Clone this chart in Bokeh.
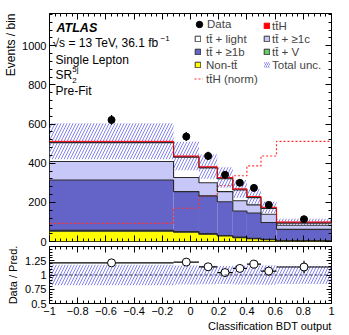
import numpy as np
from bokeh.plotting import figure
from bokeh.models import (Range1d, LinearAxis, FixedTicker, Label, Legend, LegendItem, Span, Title)
from bokeh.layouts import column
from bokeh.embed import file_html
from bokeh.resources import INLINE

# ---------------- data ----------------
edges = [-1.0, -0.12, 0.06, 0.19, 0.30, 0.40, 0.50, 0.61, 1.0]
non_tt = [53, 47, 37, 28, 20, 14, 9, 3]
tt_v = [4, 4, 3, 3, 3, 2, 2, 2]
tt_1b = [257, 204, 193, 172, 133, 130, 86, 57]
tt_1c = [95, 72, 67, 52, 52, 41, 42, 21]
tt_light = [96, 104, 76, 66, 55, 37, 30, 11]
tth = [7, 6, 6, 6, 6, 6, 6, 6]
tth_norm = [93, 170, 232, 286, 336, 386, 437, 512]
data = [621, 536, 437, 341, 300, 274, 187, 114]
data_err = [25, 23, 21, 18, 17, 17, 14, 11]
total_unc = [92, 73, 62, 52, 45, 38, 30, 16]

x_ticks = [-1, -0.8, -0.6, -0.4, -0.2, 0, 0.2, 0.4, 0.6, 0.8, 1]
x_tick_labels = ["\u22121", "\u22120.8", "\u22120.6", "\u22120.4", "\u22120.2", "0",
                 "0.2", "0.4", "0.6", "0.8", "1"]
y_ticks = [0, 200, 400, 600, 800, 1000]
r_ticks = [0.5, 0.75, 1, 1.25]
r_tick_labels = ["0.5", "0.75", "1", "1.25"]

TT = "t" + "t\u0304"
FONT = "Liberation Sans"
Y_MAX = 1165

# ---------------- derived ----------------
e = np.array(edges)
left, right = e[:-1], e[1:]
centers = (left + right) / 2
components = [
    ("Non-" + TT, non_tt, "#ffff00"),
    (TT + " + V", tt_v, "#66cc66"),
    (TT + " + \u22651b", tt_1b, "#6464c8"),
    (TT + " + \u22651c", tt_1c, "#c8c8f8"),
    (TT + " + light", tt_light, "#ffffff"),
    (TT + "H", tth, "#ff0000"),
]
total = np.sum([np.array(c[1]) for c in components], axis=0)
unc = np.array(total_unc)
ratio = np.array(data) / total
ratio_err = np.array(data_err) / total
rel_unc = unc / total

HATCH = "#8484f2"

xr = Range1d(-1, 1)


def style_axis(ax, ticker, labels=True, overrides=None, tin=6):
    ax.ticker = ticker
    ax.axis_line_color = None
    ax.major_tick_in = tin
    ax.major_tick_out = 0
    ax.minor_tick_in = 3
    ax.minor_tick_out = 0
    ax.major_tick_line_color = "black"
    ax.minor_tick_line_color = "black"
    if labels:
        ax.major_label_text_font = FONT
        ax.major_label_text_font_size = "11px"
        ax.major_label_text_color = "black"
        ax.major_label_standoff = 3
        if overrides:
            ax.major_label_overrides = overrides
    else:
        ax.major_label_text_font_size = "1px"
        ax.major_label_text_color = None
        ax.major_label_standoff = 0


x_minor = [round(v, 2) for v in np.arange(-1, 1.0001, 0.04)]
xt = FixedTicker(ticks=x_ticks, minor_ticks=x_minor)
yt = FixedTicker(ticks=y_ticks, minor_ticks=list(range(0, 1200, 40)))
rt = FixedTicker(ticks=r_ticks, minor_ticks=[round(v, 2) for v in np.arange(0.5, 1.51, 0.05)])
x_over = {k: v for k, v in zip(x_ticks, x_tick_labels)}
r_over = {k: v for k, v in zip(r_ticks, r_tick_labels)}

# ---------------- main panel ----------------
p = figure(width=349, height=246, x_range=xr, y_range=Range1d(0, Y_MAX),
           output_backend="svg", toolbar_location=None,
           min_border_left=49, min_border_right=18, min_border_top=13, min_border_bottom=5)
p.outline_line_color = "black"
p.grid.visible = False
style_axis(p.yaxis[0], yt, True)
style_axis(p.xaxis[0], xt, False)
ax_r = LinearAxis()
style_axis(ax_r, yt, False)
p.add_layout(ax_r, "right")
ax_t = LinearAxis()
style_axis(ax_t, xt, False)
p.add_layout(ax_t, "above")
p.add_layout(Title(text="Events / bin", align="right", vertical_align="top", text_font=FONT,
                   text_font_size="12px", text_font_style="normal", text_color="black",
                   standoff=0), "left")

bottom = np.zeros(len(left))
tops = []
for name, vals, col in components:
    top = bottom + np.array(vals)
    p.quad(left=left, right=right, bottom=bottom, top=top, fill_color=col, line_color=None)
    tops.append(top)
    bottom = top

# ttH normalised (dotted)
lh_norm = p.step(x=e, y=np.append(tth_norm, tth_norm[-1]), mode="after",
                 line_color="#ff3030", line_dash="2 2", line_width=1.2)

# uncertainty band
p.quad(left=left, right=right, bottom=total - unc, top=total + unc,
       fill_color=None, line_color=None, hatch_pattern="/", hatch_color=HATCH,
       hatch_scale=6, hatch_weight=1)

# stack step lines
for i, top in enumerate(tops):
    col = "#ff0000" if i == len(tops) - 1 else "#2a2a2a"
    lw = 0.9 if i == len(tops) - 1 else 1.1
    p.step(x=e, y=np.append(top, top[-1]), mode="after", line_color=col, line_width=lw)

# data
p.segment(x0=centers, x1=centers, y0=np.array(data) - np.array(data_err),
          y1=np.array(data) + np.array(data_err), line_color="black", line_width=1.3)
data_r = p.scatter(x=centers, y=data, size=7, fill_color="black", line_color="black")

# legend-only renderers (a single undefined point, never drawn in the plot)
nan = [np.nan]
box = {}
for name, vals, col in components:
    lc = "#ff0000" if name == TT + "H" else "#333333"
    box[name] = p.quad(left=nan, right=nan, top=nan, bottom=nan, fill_color=col,
                       line_color=lc, line_width=1)
leg_unc = p.quad(left=nan, right=nan, top=nan, bottom=nan, fill_color=None, line_color=None,
                 hatch_pattern="/", hatch_color=HATCH, hatch_scale=4, hatch_weight=1)


def make_legend(items, loc, gw, gh, standoff):
    lg = Legend(items=items, location=loc, glyph_width=gw, glyph_height=gh,
                label_height=13, label_width=10, spacing=0, padding=0, margin=0,
                label_standoff=standoff, border_line_color=None, background_fill_alpha=0,
                label_text_font=FONT, label_text_font_size="11.5px")
    p.add_layout(lg, "center")


make_legend([LegendItem(label="Data", renderers=[data_r])], (142, 209), 16, 16, 0)
make_legend([LegendItem(label=TT + " + light", renderers=[box[TT + " + light"]]),
             LegendItem(label=TT + " + \u22651b", renderers=[box[TT + " + \u22651b"]]),
             LegendItem(label="Non-" + TT, renderers=[box["Non-" + TT]])],
            (145, 170), 7, 7, 5)
make_legend([LegendItem(label=TT + "H (norm)", renderers=[lh_norm])], (145, 156), 9, 13, 3)
make_legend([LegendItem(label=TT + "H", renderers=[box[TT + "H"]]),
             LegendItem(label=TT + " + \u22651c", renderers=[box[TT + " + \u22651c"]]),
             LegendItem(label=TT + " + V", renderers=[box[TT + " + V"]]),
             LegendItem(label="Total unc.", renderers=[leg_unc])],
            (214, 170), 7, 7, 2)


def lab(fig, text, ax_x, ax_y, dx, dy, size="12px", style="normal", align="left",
        baseline="middle"):
    fig.add_layout(Label(x=ax_x, y=ax_y, x_offset=dx, y_offset=dy, text=text,
                         text_font=FONT, text_font_size=size, text_font_style=style,
                         text_align=align, text_baseline=baseline, text_color="black"))


X0 = xr.start
lab(p, "ATLAS", X0, Y_MAX, 7, -14, size="12.5px", style="bold italic")
lab(p, "\u221as = 13 TeV, 36.1 fb", X0, Y_MAX, 3, -29)
lab(p, "\u22121", X0, Y_MAX, 111, -24.5, size="8px")
lab(p, "Single Lepton", X0, Y_MAX, 6, -46)
lab(p, "SR", X0, Y_MAX, 6, -61.5)
lab(p, "5j", X0, Y_MAX, 22.7, -56, size="8px")
lab(p, "2", X0, Y_MAX, 22.7, -66.5, size="8px")
lab(p, "Pre-Fit", X0, Y_MAX, 6, -77.5)

# ---------------- ratio panel ----------------
r = figure(width=349, height=89, x_range=xr, y_range=Range1d(0.5, 1.5),
           output_backend="svg", toolbar_location=None,
           min_border_left=49, min_border_right=18, min_border_top=0, min_border_bottom=32)
r.outline_line_color = "black"
r.grid.visible = False
style_axis(r.yaxis[0], rt, True, r_over, tin=5)
r.yaxis[0].axis_label = "Data / Pred."
r.yaxis[0].axis_label_text_font = FONT
r.yaxis[0].axis_label_text_font_size = "11px"
r.yaxis[0].axis_label_text_font_style = "normal"
r.yaxis[0].axis_label_text_color = "black"
r.yaxis[0].axis_label_standoff = 3
style_axis(r.xaxis[0], xt, True, x_over)
r.xaxis[0].major_label_standoff = 3
rax_r = LinearAxis()
style_axis(rax_r, rt, False, tin=5)
r.add_layout(rax_r, "right")
rax_t = LinearAxis()
style_axis(rax_t, xt, False)
r.add_layout(rax_t, "above")
r.add_layout(Title(text="Classification BDT output", align="right", text_font=FONT,
                   text_font_size="11px", text_font_style="normal", text_color="black",
                   standoff=1), "below")

r.quad(left=left, right=right, bottom=1 - rel_unc, top=1 + rel_unc,
       fill_color=None, line_color=None, hatch_pattern="/", hatch_color=HATCH,
       hatch_scale=6, hatch_weight=1)
r.add_layout(Span(location=1, dimension="width", line_color="#303050", line_dash="3 2", line_width=1))
r.segment(x0=left, x1=right, y0=ratio, y1=ratio, line_color="black", line_width=1.2)
r.segment(x0=centers, x1=centers, y0=ratio - ratio_err, y1=ratio + ratio_err,
          line_color="black", line_width=1.2)
r.scatter(x=centers, y=ratio, size=8, fill_color="white", line_color="black", line_width=1)

layout = column(p, r, spacing=0)
open("out.html", "w").write(file_html(layout, INLINE))
